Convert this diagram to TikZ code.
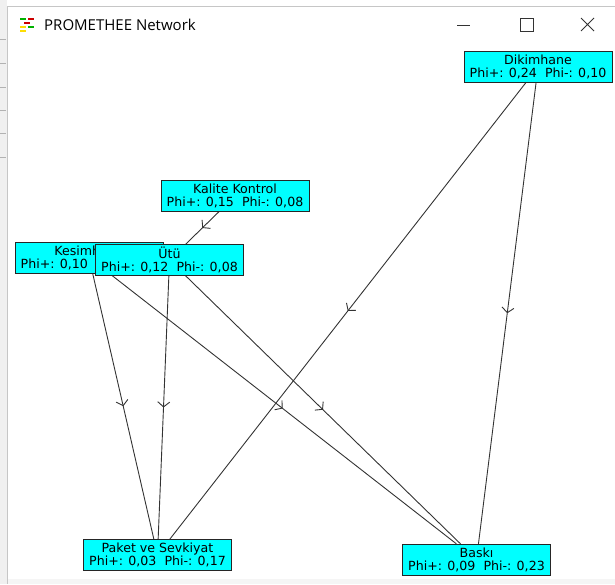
\documentclass[tikz,border=0pt]{standalone}
\usepackage{fontspec}
\newfontfamily\netfont{DejaVu Sans}
\newfontfamily\winfont{Open Sans}
\usetikzlibrary{arrows.meta}
\usetikzlibrary{positioning}
\usetikzlibrary{decorations.markings}
\usetikzlibrary{backgrounds}

\definecolor{aqua}{RGB}{0,255,255}

\tikzset{
  crit/.style={draw=black!85, fill=aqua, minimum width=148pt,
    minimum height=31pt, inner sep=0.5pt, align=center,
    font=\netfont\fontsize{12.6}{13}\selectfont},
  flow/.style={draw=black!80, line width=0.9pt, postaction={decorate},
    decoration={markings,
      mark=at position 0.5 with {\arrow{Straight Barb[length=5pt,width=12pt]}}}}
}

\begin{document}
\begin{tikzpicture}[x=1pt,y=-1pt]
  \useasboundingbox (0,0) rectangle (615,584);

  % window frame
  \fill[gray!12] (0,0) rectangle (7,584);
  \fill[gray!8] (7,579) rectangle (615,584);
  \draw[gray!45] (7,6) -- (7,584);
  \draw[gray!45] (7,6) -- (615,6);
  \foreach \y in {39,63,87,110,133,157}
    \draw[gray!60] (0,\y) -- (6,\y);

  % title bar
  \fill[green!70!black] (20,18) rectangle (26,20);
  \fill[red!80!black] (28,18) rectangle (34,20);
  \fill[red!80!black] (24,22) rectangle (30,24);
  \fill[yellow!80!orange] (20,26) rectangle (26,28);
  \fill[green!70!black] (28,26) rectangle (34,28);
  \fill[yellow!80!orange] (20,30) rectangle (26,32);
  \node[anchor=west, inner sep=0pt, font=\winfont\fontsize{15}{16}\selectfont]
    (title) at (44,25) {PROMETHEE Network};
  \draw[black!80, line width=0.8pt] (457,25) -- (470,25);
  \draw[black!80, line width=0.8pt] (520,18) rectangle (533,31);
  \draw[black!80, line width=0.8pt] (581,18) -- (594,31) (581,31) -- (594,18);

  % criteria
  \node[crit] (dik) at (538,67)      {Dikimhane\\Phi+: 0,24~ Phi-: 0,10};
  \node[crit] (kal) at (235,196)     {Kalite Kontrol\\Phi+: 0,15~ Phi-: 0,08};
  \node[crit] (kes) at (89,257.5)    {Kesimhane\\Phi+: 0,10~ Phi-: 0,07};
  \node[crit] (utu) at (169.5,260)   {Ütü\\Phi+: 0,12~ Phi-: 0,08};
  \node[crit] (pak) at (157.5,555)   {Paket ve Sevkiyat\\Phi+: 0,03~ Phi-: 0,17};
  \node[crit] (bas) at (476.5,559.5) {Baskı\\Phi+: 0,09~ Phi-: 0,23};

  \begin{scope}[on background layer]
    \path
    (dik) edge[flow] (pak)
    (dik) edge[flow] (bas)
    (kal) edge[flow] (utu)
    (kes) edge[flow] (pak)
    (utu) edge[flow] (pak)
    (kes) edge[flow] (bas)
    (utu) edge[flow] (bas);
  \end{scope}
\end{tikzpicture}
\end{document}
